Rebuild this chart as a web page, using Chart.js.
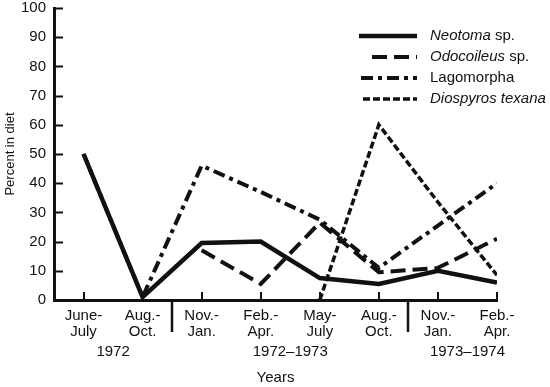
<!DOCTYPE html>
<html>
<head>
<meta charset="utf-8">
<script src="https://cdn.jsdelivr.net/npm/chart.js@4/dist/chart.umd.min.js"></script>
<style>
  html, body { margin: 0; padding: 0; background: #fff; }
  canvas { display: block; }
</style>
</head>
<body>
<canvas id="chart" width="550" height="387"></canvas>
<script>
// periods (two-line tick labels) and the year groups beneath them
const periodLabels = [
  ['June-', 'July'], ['Aug.-', 'Oct.'], ['Nov.-', 'Jan.'], ['Feb.-', 'Apr.'],
  ['May-', 'July'], ['Aug.-', 'Oct.'], ['Nov.-', 'Jan.'], ['Feb.-', 'Apr.']
];
const yearGroups = ['1972', '1972\u20131973', '1973\u20131974'];
const yearGroupCenters = [0.5, 3.5, 6.5];
const yearDividers = [1.5, 5.5];
const yTicks = [0, 10, 20, 30, 40, 50, 60, 70, 80, 90, 100];

// percent in diet
const neotoma    = [50, 1, 19.5, 20, 7.5, 5.5, 10, 6];
const odocoileus = [null, null, 17, 5.5, 26.5, 9.5, 11, 21];
const lagomorpha = [50, 1, 46, 37, 27.5, 11, 25.5, 40];
const diospyros  = [null, null, null, null, 0, 60, 33.5, 8.5];

const FONT = '"Liberation Sans", Arial, Helvetica, sans-serif';
const INK = '#111';

const toPoints = arr => arr.map((v, i) => ({ x: i, y: v }));

const series = [
  { name: 'Neotoma', suffix: ' sp.', italic: true, data: neotoma, dash: [], width: 4.5 },
  { name: 'Odocoileus', suffix: ' sp.', italic: true, data: odocoileus, dash: [15, 7], width: 4 },
  { name: 'Lagomorpha', suffix: '', italic: false, data: lagomorpha, dash: [12, 5, 4, 5], width: 4 },
  { name: 'Diospyros texana', suffix: '', italic: true, data: diospyros, dash: [7, 3], width: 3.5 }
];

// inner tick marks, year dividers and year group labels
const axisExtras = {
  id: 'axisExtras',
  afterDraw(chart) {
    const { ctx, chartArea, scales } = chart;
    const x = scales.x, y = scales.y;
    ctx.save();
    ctx.strokeStyle = INK;
    ctx.lineWidth = 2;
    ctx.beginPath();
    yTicks.slice(1).forEach(v => {
      const py = Math.round(y.getPixelForValue(v)) + 0.5;
      ctx.moveTo(chartArea.left, py);
      ctx.lineTo(chartArea.left + 9, py);
    });
    periodLabels.forEach((_, i) => {
      const px = Math.round(x.getPixelForValue(i));
      ctx.moveTo(px, chartArea.bottom);
      ctx.lineTo(px, chartArea.bottom - 8);
    });
    ctx.stroke();

    ctx.lineWidth = 2.5;
    ctx.beginPath();
    yearDividers.forEach(d => {
      const px = Math.round(x.getPixelForValue(d));
      ctx.moveTo(px, chartArea.bottom);
      ctx.lineTo(px, chartArea.bottom + 32);
    });
    ctx.stroke();

    ctx.fillStyle = INK;
    ctx.font = '15px ' + FONT;
    ctx.textAlign = 'center';
    ctx.textBaseline = 'middle';
    yearGroups.forEach((g, i) => {
      ctx.fillText(g, x.getPixelForValue(yearGroupCenters[i]), chartArea.bottom + 52);
    });
    ctx.restore();
  }
};

// legend drawn as line samples with mixed italic / upright text
const legendPlugin = {
  id: 'figLegend',
  afterDraw(chart) {
    const { ctx } = chart;
    const rows = [36, 57, 78, 99];
    const starts = [359, 372, 361, 363];
    ctx.save();
    series.forEach((s, i) => {
      const yy = rows[i];
      ctx.strokeStyle = INK;
      ctx.lineWidth = s.width;
      ctx.setLineDash(s.dash);
      ctx.beginPath();
      ctx.moveTo(starts[i], yy);
      ctx.lineTo(417, yy);
      ctx.stroke();
      ctx.setLineDash([]);
      ctx.fillStyle = INK;
      ctx.textBaseline = 'middle';
      ctx.textAlign = 'left';
      ctx.font = (s.italic ? 'italic ' : '') + '15px ' + FONT;
      ctx.fillText(s.name, 430, yy);
      if (s.suffix) {
        const w = ctx.measureText(s.name).width;
        ctx.font = '15px ' + FONT;
        ctx.fillText(s.suffix, 430 + w, yy);
      }
    });
    ctx.restore();
  }
};

new Chart(document.getElementById('chart').getContext('2d'), {
  type: 'line',
  data: {
    datasets: series.map(s => ({
      label: s.name,
      data: toPoints(s.data),
      borderColor: INK,
      borderWidth: s.width,
      borderDash: s.dash,
      borderCapStyle: 'butt',
      borderJoinStyle: 'miter',
      pointRadius: 0,
      tension: 0,
      fill: false,
      spanGaps: false
    }))
  },
  options: {
    responsive: false,
    animation: false,
    layout: { padding: { left: 0, right: 53, top: 0, bottom: 0 } },
    plugins: {
      legend: { display: false },
      tooltip: { enabled: false }
    },
    scales: {
      x: {
        type: 'linear',
        min: -0.5,
        max: 7,
        afterBuildTicks: scale => { scale.ticks = periodLabels.map((_, i) => ({ value: i })); },
        afterFit: scale => { scale.height = 87; },
        grid: { display: false, drawTicks: false },
        border: { display: true, width: 3, color: INK },
        ticks: {
          autoSkip: false,
          maxRotation: 0,
          padding: 8,
          color: INK,
          font: { family: FONT, size: 15, lineHeight: 1.05 },
          callback: v => periodLabels[v]
        },
        title: {
          display: true,
          text: 'Years',
          color: INK,
          font: { family: FONT, size: 15 },
          padding: 0
        }
      },
      y: {
        min: 0,
        max: 100,
        afterBuildTicks: scale => { scale.ticks = yTicks.map(v => ({ value: v })); },
        afterFit: scale => { scale.width = 54; scale.paddingTop = 8; },
        grid: { display: false, drawTicks: false },
        border: { display: true, width: 3, color: INK },
        ticks: {
          padding: 8,
          color: INK,
          font: { family: FONT, size: 15 }
        },
        title: {
          display: true,
          text: 'Percent in diet',
          color: INK,
          font: { family: FONT, size: 13 },
          padding: 3
        }
      }
    }
  },
  plugins: [axisExtras, legendPlugin]
});
</script>
</body>
</html>
